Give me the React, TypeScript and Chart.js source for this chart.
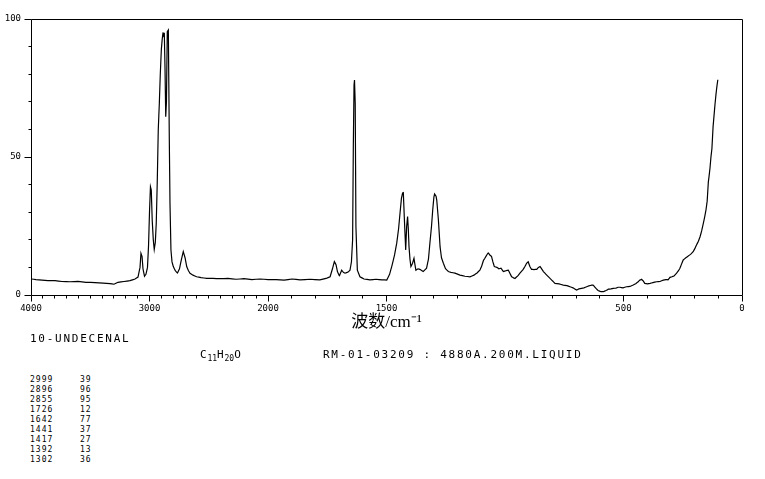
import React, { useEffect, useRef } from 'react';
import { Chart, registerables, LinearScale } from 'chart.js';

Chart.register(...registerables);

// ---- Spectrum data (Raman shift in cm-1, relative intensity) ----
const wavenumbers = [
  3996, 3958, 3907, 3857, 3797, 3738, 3671, 3603, 3536, 3460, 3392, 3333, 3300, 3266, 3215, 3165, 3122, 3097,
  3080, 3072, 3063, 3055, 3042, 3030, 3017, 3008, 3000, 2992, 2985, 2977, 2968, 2960, 2951, 2943, 2934, 2926,
  2917, 2909, 2900, 2892, 2886, 2880, 2875, 2869, 2863, 2857, 2850, 2841, 2833, 2827, 2819, 2810, 2799, 2782,
  2765, 2747, 2730, 2715, 2700, 2686, 2671, 2658, 2633, 2602, 2565, 2517, 2464, 2405, 2338, 2270, 2203, 2135,
  2068, 2000, 1966, 1932, 1899, 1865, 1823, 1781, 1755, 1738, 1728, 1720, 1713, 1707, 1699, 1689, 1682, 1675,
  1662, 1654, 1648, 1643, 1640, 1637, 1635, 1632, 1629, 1623, 1612, 1595, 1570, 1544, 1519, 1499, 1487, 1478,
  1466, 1457, 1449, 1443, 1437, 1432, 1429, 1425, 1419, 1415, 1411, 1408, 1405, 1401, 1397, 1390, 1384, 1380,
  1376, 1367, 1359, 1345, 1331, 1323, 1317, 1310, 1305, 1300, 1297, 1291, 1288, 1281, 1274, 1268, 1260, 1251,
  1239, 1228, 1211, 1190, 1169, 1148, 1131, 1118, 1106, 1099, 1091, 1085, 1077, 1071, 1064, 1057, 1051, 1045,
  1034, 1026, 1017, 1007, 996, 986, 979, 972, 964, 958, 945, 937, 924, 916, 909, 902, 895, 888,
  878, 866, 859, 852, 844, 838, 827, 810, 798, 789, 772, 754, 739, 726, 713, 698, 688, 677,
  667, 655, 646, 634, 627, 620, 614, 607, 595, 585, 574, 564, 553, 543, 532, 523, 515, 502,
  487, 473, 459, 447, 438, 431, 424, 416, 410, 399, 388, 376, 360, 346, 332, 321, 312, 304,
  296, 287, 276, 268, 262, 256, 248, 237, 227, 216, 206, 199, 192, 184, 177, 170, 163, 157,
  152, 147, 142, 139, 135, 131, 127, 122, 118, 114, 110, 106, 102,
];
const intensities = [
  5.8, 5.6, 5.4, 5.2, 5.2, 4.9, 4.8, 4.9, 4.6, 4.5, 4.3, 4.1, 3.9, 4.6, 4.9, 5.2, 5.8, 6.5,
  10, 15.1, 14, 9.5, 6.8, 7.5, 10, 18, 30, 39.2, 38, 27, 20, 16.5, 19, 26, 42, 60,
  69.5, 80, 89, 93, 95, 93.5, 95, 82, 64.6, 70, 95.4, 96, 57, 33, 16.3, 12, 10.3, 8.8,
  7.9, 9.5, 13, 15.7, 13.5, 10.3, 8.8, 7.9, 7.2, 6.6, 6.3, 6.0, 6.0, 5.9, 6.0, 5.7, 5.9, 5.6,
  5.8, 5.6, 5.6, 5.4, 5.8, 5.5, 5.7, 5.5, 6.0, 6.6, 9.5, 12.1, 11, 8.5, 6.9, 9.0, 8.2, 7.9,
  8.3, 9.0, 12, 20, 53.7, 76, 77.9, 69.4, 24.8, 9, 6.6, 5.8, 5.5, 5.7, 5.5, 5.4, 7.5, 10.3,
  14.5, 18.7, 24, 29.6, 35, 37, 37.1, 28.4, 16.3, 24.8, 28.4, 24, 17.5, 13, 10.3, 11.5, 13.3, 11,
  9.0, 9.5, 9.3, 8.5, 9.7, 13, 18.7, 25, 30.8, 35.5, 36.6, 35.8, 34.4, 27.2, 17.5, 13.5, 11.5, 9.5,
  8.5, 8.2, 7.9, 7.2, 6.8, 6.6, 7.2, 8.0, 9.0, 10.3, 12.5, 13.3, 14.5, 15.3, 14.5, 14.0, 12, 10.3,
  10.0, 9.5, 9.7, 8.5, 8.8, 9.0, 7.8, 6.6, 6.2, 6.0, 7.0, 7.9, 9.2, 10.3, 11.5, 12.0, 10.3, 9.3,
  9.2, 9.3, 10.0, 10.3, 9.3, 8.5, 7.5, 6.0, 5.0, 4.2, 4.0, 3.6, 3.4, 3.0, 2.6, 1.8, 2.2, 2.4,
  2.6, 3.0, 3.3, 3.6, 3.5, 2.8, 2.2, 1.6, 1.2, 1.2, 1.6, 2.1, 2.2, 2.4, 2.5, 2.8, 2.8, 2.6,
  3.0, 3.1, 3.6, 4.2, 4.8, 5.4, 5.7, 5.0, 4.2, 4.0, 4.2, 4.5, 4.8, 4.9, 5.4, 5.6, 5.5, 6.4,
  6.6, 6.9, 7.9, 8.8, 9.7, 11, 12.7, 13.5, 14.1, 14.8, 15.7, 16.8, 18.1, 19.5, 21.1, 23.3, 26, 28.5,
  30.8, 34, 41, 43, 46, 50, 53, 61, 65, 69, 72.5, 75.5, 78,
];

// ---- Axis tick labels ----
const xTickLabels = [4000, 3000, 2000, 1500, 500, 0];
const yTickLabels = [0, 50, 100];

// ---- Peak table & captions ----
const peakWavenumbers = [2999, 2896, 2855, 1726, 1642, 1441, 1417, 1392, 1302];
const peakIntensities = [39, 96, 95, 12, 77, 37, 27, 13, 36];
const compoundName = '10-UNDECENAL';
const sampleInfo = 'RM-01-03209 : 4880A.200M.LIQUID';
const axisTitle = '波数/cm⁻¹';

// Split axis: 4000-2000 at 1000 per unit, 2000-0 at 500 per unit
const X_MAX = 4000;
const X_BREAK = 2000;
const X_MIN = 0;
const UNITS = 6;
function toUnit(w: number) {
  return w >= X_BREAK ? (X_MAX - w) / 1000 : 2 + (X_BREAK - w) / 500;
}
function fromUnit(u: number) {
  return u <= 2 ? X_MAX - u * 1000 : X_BREAK - (u - 2) * 500;
}

class SplitWavenumberScale extends LinearScale {
  static id = 'splitWavenumber';
  static defaults = {};
  determineDataLimits() {
    this.min = X_MIN;
    this.max = X_MAX;
  }
  buildTicks() {
    const t: any[] = [];
    for (let w = X_MAX; w >= X_MIN; w -= 100) t.push({ value: w });
    return t;
  }
  getPixelForValue(v: number) {
    return this.getPixelForDecimal(toUnit(v) / UNITS);
  }
  getValueForPixel(p: number) {
    return fromUnit(this.getDecimalForPixel(p) * UNITS);
  }
}
Chart.register(SplitWavenumberScale as any);

const frameTicksPlugin = {
  id: 'frameTicks',
  afterDraw(chart: any) {
    const { ctx, chartArea } = chart;
    const L = Math.floor(chartArea.left) + 0.5;
    const R = Math.floor(chartArea.right) + 0.5;
    const T = Math.floor(chartArea.top) + 0.5;
    const B = Math.floor(chartArea.bottom) + 0.5;
    ctx.save();
    ctx.strokeStyle = '#000';
    ctx.lineWidth = 1;
    ctx.beginPath();
    ctx.moveTo(L, T); ctx.lineTo(R, T); ctx.lineTo(R, B); ctx.lineTo(L, B); ctx.closePath();
    const xs = chart.scales.x;
    for (const tk of xs.ticks) {
      const px = Math.floor(xs.getPixelForValue(tk.value)) + 0.5;
      const len = xTickLabels.includes(tk.value) ? 6 : 3;
      ctx.moveTo(px, B); ctx.lineTo(px, B + len);
    }
    const ys = chart.scales.y;
    for (const tk of ys.ticks) {
      const py = Math.floor(ys.getPixelForValue(tk.value)) + 0.5;
      const len = yTickLabels.includes(tk.value) ? 7 : 3;
      ctx.moveTo(L, py); ctx.lineTo(L - len, py);
    }
    ctx.stroke();
    ctx.restore();
  },
};

const mono = "'DejaVu Sans Mono', monospace";

export default function App() {
  const ref = useRef<HTMLCanvasElement | null>(null);
  useEffect(() => {
    if (!ref.current) return;
    const chart = new Chart(ref.current, {
      type: 'line',
      data: {
        datasets: [
          {
            data: wavenumbers.map((w, i) => ({ x: w, y: intensities[i] })),
            borderColor: '#000',
            borderWidth: 1.2,
            pointRadius: 0,
            tension: 0.0001,
            fill: false,
          },
        ],
      },
      options: {
        animation: false,
        responsive: false,
        events: [],
        layout: { padding: { left: 0, top: 19, right: 23, bottom: 0 } },
        plugins: { legend: { display: false }, tooltip: { enabled: false } },
        scales: {
          x: {
            type: 'splitWavenumber' as any,
            position: 'bottom',
            grid: { display: false, drawTicks: false },
            border: { display: false },
            ticks: {
              autoSkip: false,
              maxRotation: 0,
              minRotation: 0,
              padding: 8,
              color: '#000',
              font: { family: mono, size: 9 },
              callback: (v: any) => (xTickLabels.includes(Number(v)) ? String(v) : ''),
            },
            title: {
              display: true,
              text: axisTitle,
              color: '#000',
              font: { family: "'Liberation Serif', 'Noto Sans CJK SC', serif", size: 17 },
              padding: { top: 0, bottom: 7 },
            },
            afterFit: (s: any) => {
              s.height = 45;
            },
          } as any,
          y: {
            type: 'linear',
            min: 0,
            max: 100,
            grid: { display: false, drawTicks: false },
            border: { display: false },
            ticks: {
              stepSize: 10,
              autoSkip: false,
              padding: 10,
              color: '#000',
              font: { family: mono, size: 9 },
              callback: (v: any) => (yTickLabels.includes(Number(v)) ? String(v) : ''),
            },
            afterFit: (s: any) => {
              s.width = 31;
            },
          },
        },
      },
      plugins: [frameTicksPlugin],
    });
    return () => chart.destroy();
  }, []);

  const big: React.CSSProperties = {
    position: 'absolute',
    fontFamily: mono,
    fontSize: 11,
    lineHeight: '11px',
    letterSpacing: 1.75,
    color: '#000',
    whiteSpace: 'pre',
  };
  const small: React.CSSProperties = {
    position: 'absolute',
    fontFamily: mono,
    fontSize: 8,
    lineHeight: '8px',
    letterSpacing: 1,
    color: '#000',
    whiteSpace: 'pre',
  };
  const sub: React.CSSProperties = {
    fontSize: 8,
    letterSpacing: 0,
    position: 'relative',
    top: 3,
  };

  return (
    <div style={{ position: 'relative', width: 765, height: 479, background: '#fff', overflow: 'hidden' }}>
      <style>{'body{margin:0}'}</style>
      <canvas ref={ref} width={765} height={340} style={{ position: 'absolute', left: 0, top: 0, display: 'block' }} />
      <div style={{ ...big, left: 30, top: 333.3 }}>{compoundName}</div>
      <div style={{ ...big, left: 200, top: 348.7, letterSpacing: 0.8 }}>
        C<span style={sub}>11</span>H<span style={sub}>20</span>O
      </div>
      <div style={{ ...big, left: 323, top: 348.7 }}>{sampleInfo}</div>
      {peakWavenumbers.map((w, i) => (
        <React.Fragment key={i}>
          <div style={{ ...small, left: 30, top: 376.4 + i * 10 }}>{String(w)}</div>
          <div style={{ ...small, left: 80, top: 376.4 + i * 10 }}>{String(peakIntensities[i])}</div>
        </React.Fragment>
      ))}
    </div>
  );
}
